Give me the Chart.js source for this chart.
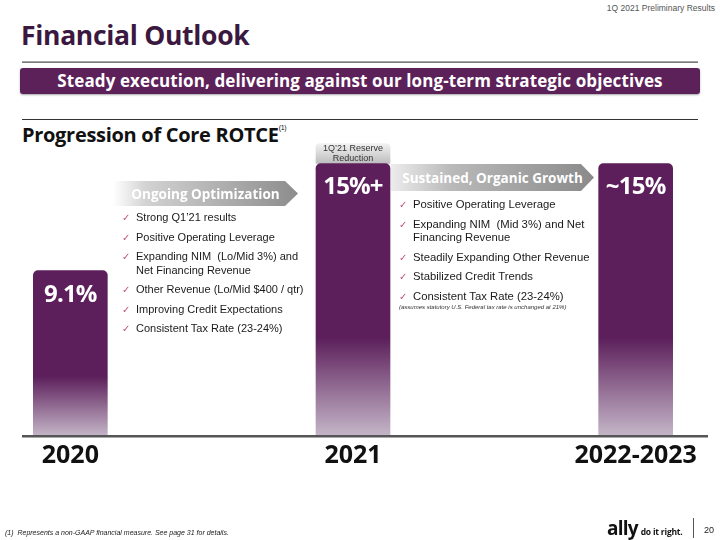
<!DOCTYPE html>
<html>
<head>
<meta charset="utf-8">
<script src="https://cdn.jsdelivr.net/npm/chart.js@4.4.1/dist/chart.umd.min.js"></script>
<style>
  html, body { margin: 0; padding: 0; width: 720px; height: 540px; overflow: hidden; background: #fff; }
  body { position: relative; font-family: "Liberation Sans", Arial, sans-serif; }
  .abs { position: absolute; white-space: nowrap; }
  #chartBox { position: absolute; left: -71px; top: 0; width: 848px; height: 540px; }
  .head { font-family: "Open Sans", sans-serif; font-weight: 700; }
  .arrow { position: absolute; clip-path: polygon(0 0, calc(100% - 13px) 0, 100% 50%, calc(100% - 13px) 100%, 0 100%);
           color: #fff; font-family: "Open Sans", sans-serif; font-weight: 700; font-size: 13.5px;
           display: flex; align-items: center; justify-content: center; }
  ul.chk { position: absolute; margin: 0; padding: 0; list-style: none; font-size: 11px; color: #1a1a1a; line-height: 13.5px; }
  ul.chk li { position: relative; padding-left: 14px; margin-bottom: 6px; }
  ul.chk li::before { content: "\2713"; position: absolute; left: 0; top: 0; color: #c0527f; font-family: "DejaVu Sans"; font-size: 10px; }
</style>
</head>
<body>
<div class="abs" style="right:5px; top:3px; font-size:8.5px; color:#555;">1Q 2021 Preliminary Results</div>
<div class="abs head" style="left:21px; top:17px; font-size:26.5px; color:#3a1840; letter-spacing:-0.3px;">Financial Outlook</div>
<div class="abs" style="left:22px; top:61px; width:676px; height:2px; background:linear-gradient(#bbb,#666);"></div>
<div class="abs head" style="left:20px; top:68px; width:680px; height:26px; background:#5c2159; border-radius:3px; box-shadow:0 1px 2px rgba(0,0,0,0.35); color:#fff; font-size:17px; line-height:26px; text-align:center; letter-spacing:0.1px;">Steady execution, delivering against our long-term strategic objectives</div>
<div class="abs" style="left:22px; top:119px; width:676px; height:1px; background:#333;"></div>
<div class="abs head" style="left:22px; top:121px; font-size:20px; color:#111; letter-spacing:-0.3px;">Progression of Core ROTCE<sup style="font-family:'Liberation Sans'; font-weight:400; font-size:7px; position:relative; top:-4px;">(1)</sup></div>

<div id="chartBox"><canvas id="graficoRotce"></canvas></div>

<div class="arrow" style="left:113px; top:181px; width:185px; height:25px; background:linear-gradient(to right, rgba(255,255,255,0) 0%, #d2d2d2 18%, #8c8c8c 100%);">Ongoing Optimization</div>
<ul class="chk" style="left:122px; top:211px;">
  <li>Strong Q1’21 results</li>
  <li>Positive Operating Leverage</li>
  <li>Expanding NIM&nbsp; (Lo/Mid 3%) and<br>Net Financing Revenue</li>
  <li>Other Revenue (Lo/Mid $400 / qtr)</li>
  <li>Improving Credit Expectations</li>
  <li>Consistent Tax Rate (23-24%)</li>
</ul>

<div class="arrow" style="left:391px; top:164px; width:203px; height:27px; background:linear-gradient(to right, #ececec 0%, #b9b9b9 30%, #8a8a8a 100%);">Sustained, Organic Growth</div>
<ul class="chk" style="left:399px; top:198px; font-size:11.3px;">
  <li>Positive Operating Leverage</li>
  <li>Expanding NIM&nbsp; (Mid 3%) and Net<br>Financing Revenue</li>
  <li>Steadily Expanding Other Revenue</li>
  <li>Stabilized Credit Trends</li>
  <li style="margin-bottom:1px;">Consistent Tax Rate (23-24%)</li>
</ul>
<div class="abs" style="left:399px; top:304px; font-size:6px; font-style:italic; color:#333;">(assumes statutory U.S. Federal tax rate is unchanged at 21%)</div>

<div class="abs" style="left:5px; top:529px; font-size:7px; font-style:italic; color:#222;">(1)&nbsp; Represents a non-GAAP financial measure. See page 31 for details.</div>
<div class="abs" style="left:607px; top:515px; font-family:'Open Sans'; font-weight:700; font-size:19px; color:#111; letter-spacing:-0.8px;">ally<span style="font-size:8.5px; font-weight:700; letter-spacing:-0.2px; margin-left:3px;">do it right.</span></div>
<div class="abs" style="left:693px; top:518px; width:1px; height:20px; background:#555;"></div>
<div class="abs" style="left:704px; top:525px; font-size:9px; color:#222;">20</div>

<script>
// Core ROTCE por periodo
const periodos = ['2020', '2021', '2022-2023'];
const rotce = [9.1, 15, 15];
const etiquetasRotce = ['9.1%', '15%+', '~15%'];
// tramo gris sobre 2021
const reservaReduccion = [null, 1.1, null];
const etiquetaReserva = ['1Q\u201921 Reserve', 'Reduction'];

const CANVAS_LEFT = -71;
const morado = '#5c1f5b';

function rellenoBarra(c) {
    const chart = c.chart;
    if (!chart.chartArea || c.type !== 'data') return morado;
    const y = chart.scales.y;
    const top = y.getPixelForValue(c.raw);
    const bottom = y.getPixelForValue(0);
    const g = chart.ctx.createLinearGradient(0, top, 0, bottom);
    g.addColorStop(0, morado);
    g.addColorStop(0.64, morado);
    g.addColorStop(1, '#c5b6c8');
    return g;
}

function rellenoReserva(c) {
    const chart = c.chart;
    if (!chart.chartArea || c.type !== 'data' || c.raw == null) return '#d0d0d0';
    const y = chart.scales.y;
    const base = y.getPixelForValue(rotce[c.dataIndex]);
    const top = y.getPixelForValue(rotce[c.dataIndex] + c.raw);
    const g = chart.ctx.createLinearGradient(0, top, 0, base);
    g.addColorStop(0, '#f2f2f2');
    g.addColorStop(1, '#bdbdbd');
    return g;
}

// textos dentro de las barras y linea base
const etiquetas = {
    id: 'etiquetas',
    afterDatasetsDraw(chart) {
        const ctx = chart.ctx;
        const y0 = chart.scales.y.getPixelForValue(0);
        ctx.save();
        ctx.fillStyle = '#555';
        ctx.fillRect(22 - CANVAS_LEFT, y0 - 1, 686, 2.5);

        ctx.textAlign = 'center';
        ctx.textBaseline = 'middle';
        ctx.fillStyle = '#fff';
        ctx.font = '700 24px "Open Sans"';
        if ('letterSpacing' in ctx) ctx.letterSpacing = '-0.8px';
        chart.getDatasetMeta(0).data.forEach((bar, i) => {
            ctx.fillText(etiquetasRotce[i], bar.x, bar.y + 24);
        });
        if ('letterSpacing' in ctx) ctx.letterSpacing = '0px';

        ctx.fillStyle = '#333';
        ctx.font = '9px "Liberation Sans"';
        chart.getDatasetMeta(1).data.forEach((bar, i) => {
            if (reservaReduccion[i] == null) return;
            const mid = (bar.y + bar.base) / 2;
            ctx.fillText(etiquetaReserva[0], bar.x, mid - 5);
            ctx.fillText(etiquetaReserva[1], bar.x, mid + 5);
        });
        ctx.restore();
    }
};

const ctx = document.getElementById('graficoRotce').getContext('2d');

let chart = new Chart(ctx, {
    type: 'bar',
    data: {
        labels: periodos,
        datasets: [{
            label: 'Core ROTCE',
            data: rotce,
            backgroundColor: rellenoBarra,
            borderRadius: { topLeft: 5, topRight: 5, bottomLeft: 0, bottomRight: 0 },
            borderSkipped: false,
            barThickness: 74
        }, {
            label: '1Q\u201921 Reserve Reduction',
            data: reservaReduccion,
            backgroundColor: rellenoReserva,
            borderRadius: { topLeft: 4, topRight: 4, bottomLeft: 0, bottomRight: 0 },
            borderSkipped: false,
            barThickness: 74
        }]
    },
    options: {
        responsive: true,
        maintainAspectRatio: false,
        animation: false,
        layout: { padding: { top: 0, bottom: 64, left: 0, right: 0 } },
        plugins: { legend: { display: false }, tooltip: { enabled: false } },
        scales: {
            x: {
                stacked: true,
                grid: { display: false, drawTicks: false },
                border: { display: false },
                ticks: {
                    padding: 5,
                    maxRotation: 0,
                    autoSkip: false,
                    color: '#111',
                    font: { family: 'Open Sans', weight: '700', size: 25 }
                }
            },
            y: {
                display: false,
                stacked: true,
                min: 0,
                max: 24
            }
        }
    },
    plugins: [etiquetas]
});
</script>
</body>
</html>
